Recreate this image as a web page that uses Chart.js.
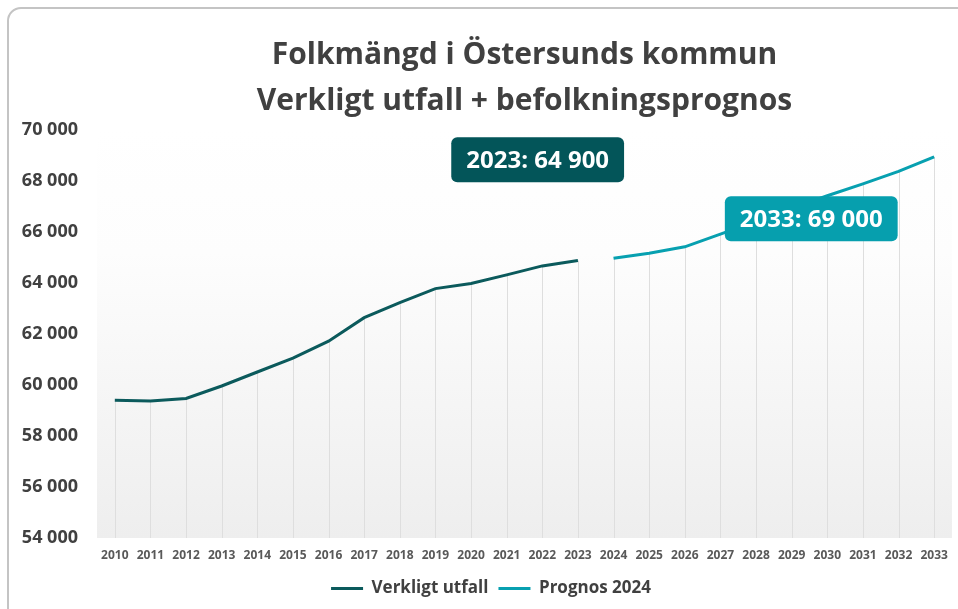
<!DOCTYPE html>
<html lang="sv">
<head>
<meta charset="utf-8">
<title>Folkmängd i Östersunds kommun</title>
<script src="https://cdn.jsdelivr.net/npm/chart.js@4.4.1/dist/chart.umd.min.js"></script>
<style>
  html, body { margin: 0; padding: 0; background: #fff; overflow: hidden; }
  #ram { position: absolute; left: 7px; top: 7px; width: 1000px; height: 700px; border: 2px solid #c4c4c4; border-radius: 14px; }
  #wrap { position: absolute; left: 0; top: 0; width: 958px; height: 609px; }
</style>
</head>
<body>
<div id="ram"></div>
<div id="wrap"><canvas id="folkChart"></canvas></div>
<script>
// Årtal på x-axeln
const ar = ['2010', '2011', '2012', '2013', '2014', '2015', '2016', '2017', '2018', '2019', '2020', '2021',
            '2022', '2023', '2024', '2025', '2026', '2027', '2028', '2029', '2030', '2031', '2032', '2033'];

// Verkligt utfall 2010-2023
const verkligtUtfall = [59400, 59370, 59470, 59960, 60510, 61050, 61720, 62640, 63230, 63780, 63980, 64320, 64670, 64880];

// Prognos 2024, år 2024-2033
const prognos2024 = [64970, 65170, 65420, 65920, 66420, 66930, 67420, 67890, 68380, 68950];

// Etiketter i rutorna
const etikettUtfall = '2023: 64 900';
const etikettPrognos = '2033: 69 000';

const morkTeal = '#0b5a5c';
const ljusTeal = '#07a0b0';

document.addEventListener('DOMContentLoaded', function() {
    const tomma = n => new Array(n).fill(null);
    const dataUtfall = [...verkligtUtfall, ...tomma(ar.length - verkligtUtfall.length)];
    const dataPrognos = [...tomma(ar.length - prognos2024.length), ...prognos2024];

    const formatera = v => String(v).replace(/\B(?=(\d{3})+(?!\d))/g, ' ');

    // Bakgrund i diagramytan, vit upptill och ljusgrå nertill
    const bakgrund = {
        id: 'bakgrund',
        beforeDraw(chart) {
            const { ctx, chartArea: a } = chart;
            const g = ctx.createLinearGradient(0, a.top, 0, a.bottom);
            g.addColorStop(0, '#ffffff');
            g.addColorStop(0.3, '#fdfdfd');
            g.addColorStop(1, '#eeeeee');
            ctx.save();
            ctx.fillStyle = g;
            ctx.fillRect(a.left, a.top, a.right - a.left, a.bottom - a.top);
            ctx.restore();
        }
    };

    // Flytta förklaringen lite åt höger, som i originalet
    const flyttaLegend = {
        id: 'flyttaLegend',
        afterLayout(chart) {
            if (chart.legend) {
                chart.legend.left += 14;
                chart.legend.right += 14;
            }
        }
    };

    // Lodlinjer från varje punkt ner till x-axeln
    const lodlinjer = {
        id: 'lodlinjer',
        beforeDatasetsDraw(chart) {
            const { ctx, chartArea: a } = chart;
            ctx.save();
            ctx.strokeStyle = '#dedede';
            ctx.lineWidth = 1;
            chart.data.datasets.forEach((ds, i) => {
                chart.getDatasetMeta(i).data.forEach((pt, j) => {
                    if (ds.data[j] === null) return;
                    const x = Math.round(pt.x) + 0.5;
                    ctx.beginPath();
                    ctx.moveTo(x, pt.y);
                    ctx.lineTo(x, a.bottom);
                    ctx.stroke();
                });
            });
            ctx.restore();
        }
    };

    // Rutor med text, placerade i diagrammets koordinater
    const rutor = [
        { text: etikettUtfall, xIndex: 11.87, yVarde: 68830, farg: '#035559' },
        { text: etikettPrognos, xIndex: 19.55, yVarde: 66520, farg: '#069fae' }
    ];
    const textrutor = {
        id: 'textrutor',
        afterDatasetsDraw(chart) {
            const { ctx, scales } = chart;
            ctx.save();
            ctx.font = 'bold 24px "Open Sans"';
            ctx.textAlign = 'center';
            ctx.textBaseline = 'middle';
            rutor.forEach(r => {
                const cx = scales.x.getPixelForValue(r.xIndex);
                const cy = scales.y.getPixelForValue(r.yVarde);
                const w = ctx.measureText(r.text).width + 30;
                const h = 45;
                ctx.fillStyle = r.farg;
                ctx.beginPath();
                ctx.roundRect(cx - w / 2, cy - h / 2, w, h, 6);
                ctx.fill();
                ctx.fillStyle = '#ffffff';
                ctx.fillText(r.text, cx, cy + 1);
            });
            ctx.restore();
        }
    };

    const ctx = document.getElementById('folkChart').getContext('2d');
    new Chart(ctx, {
        type: 'line',
        data: {
            labels: ar,
            datasets: [
                {
                    label: 'Verkligt utfall',
                    data: dataUtfall,
                    borderColor: morkTeal,
                    backgroundColor: morkTeal,
                    borderWidth: 3,
                    pointRadius: 0,
                    tension: 0
                },
                {
                    label: 'Prognos 2024',
                    data: dataPrognos,
                    borderColor: ljusTeal,
                    backgroundColor: ljusTeal,
                    borderWidth: 3,
                    pointRadius: 0,
                    tension: 0
                }
            ]
        },
        options: {
            responsive: true,
            maintainAspectRatio: false,
            animation: false,
            layout: { padding: { left: 0, right: 4, top: 0, bottom: 2 } },
            plugins: {
                title: {
                    display: true,
                    fullSize: false,
                    text: ['Folkmängd i Östersunds kommun', 'Verkligt utfall + befolkningsprognos'],
                    color: '#404040',
                    font: { family: '"Open Sans"', size: 30, weight: 'bold', lineHeight: 1.55 },
                    padding: { top: 32, bottom: 5 }
                },
                legend: {
                    position: 'bottom',
                    labels: {
                        usePointStyle: true,
                        pointStyle: 'line',
                        pointStyleWidth: 32,
                        boxHeight: 3,
                        color: '#404040',
                        font: { family: '"Open Sans"', size: 17, weight: 'bold' },
                        padding: 10
                    }
                },
                tooltip: { enabled: false }
            },
            scales: {
                x: {
                    offset: true,
                    grid: { display: false, drawTicks: false },
                    border: { display: false },
                    ticks: {
                        color: '#595959',
                        font: { family: '"Open Sans"', size: 12, weight: 'bold' },
                        padding: 10,
                        maxRotation: 0,
                        autoSkip: false
                    },
                    afterFit(s) { s.height = 32; }
                },
                y: {
                    min: 54000,
                    max: 70000,
                    grid: { display: false, drawTicks: false },
                    border: { display: false },
                    ticks: {
                        stepSize: 2000,
                        color: '#404040',
                        font: { family: '"Open Sans"', size: 18, weight: 'bold' },
                        padding: 19,
                        callback: v => formatera(v)
                    },
                    afterFit(s) { s.width = 97; }
                }
            }
        },
        plugins: [bakgrund, flyttaLegend, lodlinjer, textrutor]
    });
});
</script>
</body>
</html>
